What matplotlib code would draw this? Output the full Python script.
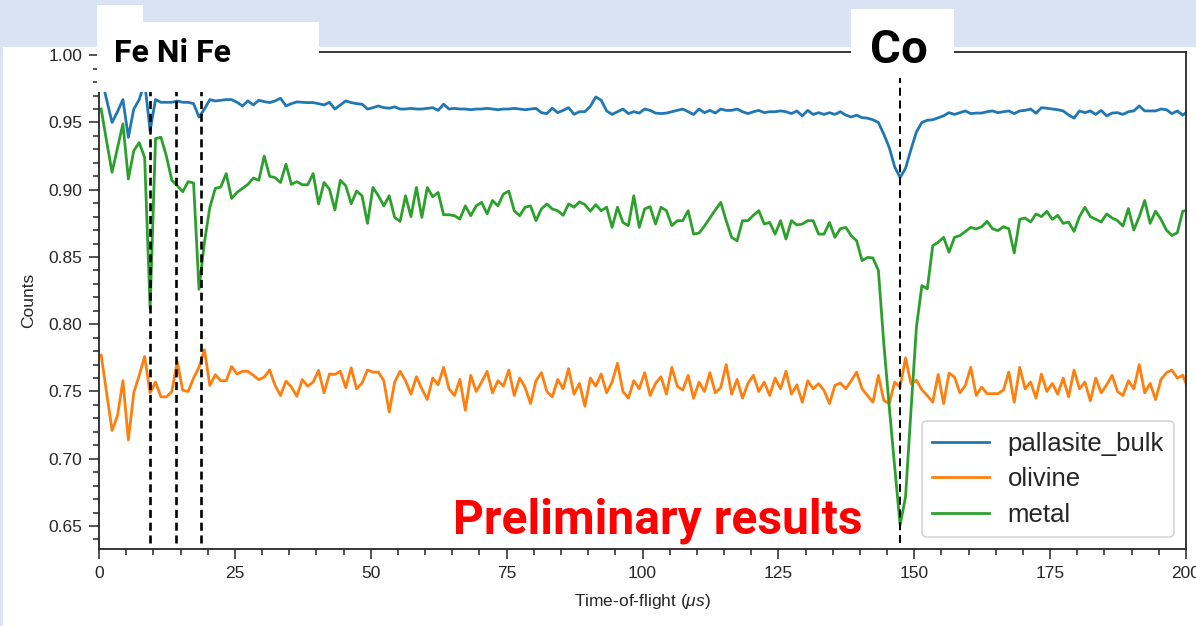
import numpy as np
import matplotlib
matplotlib.use("Agg")
import matplotlib.pyplot as plt
from matplotlib.patches import Rectangle

# ---------------------------------------------------------------- data
tof_start = 0.4   # centre of first time bin (µs)
tof_step = 1.0    # bin width (µs)

pallasite_bulk = [
    0.984, 0.967, 0.950, 0.958, 0.967, 0.939, 0.960, 0.967, 0.980, 0.944,
    0.967, 0.965, 0.965, 0.965, 0.966, 0.965, 0.965, 0.964, 0.954, 0.960,
    0.967, 0.966, 0.9665, 0.967, 0.967, 0.965, 0.9623, 0.966, 0.963, 0.9665,
    0.9655, 0.9648, 0.966, 0.968, 0.9623, 0.964, 0.9653, 0.965, 0.9648, 0.9648,
    0.964, 0.963, 0.965, 0.960, 0.963, 0.966, 0.9648, 0.964, 0.9636, 0.960,
    0.961, 0.9623, 0.961, 0.9606, 0.9616, 0.960, 0.960, 0.9605, 0.960, 0.960,
    0.9605, 0.961, 0.959, 0.9636, 0.960, 0.9605, 0.960, 0.960, 0.9595, 0.960,
    0.960, 0.9605, 0.960, 0.9595, 0.960, 0.960, 0.9605, 0.960, 0.9595, 0.960,
    0.9605, 0.9573, 0.9566, 0.9606, 0.9573, 0.959, 0.961, 0.9561, 0.958, 0.958,
    0.962, 0.969, 0.9665, 0.9586, 0.956, 0.958, 0.960, 0.9566, 0.958, 0.957,
    0.960, 0.959, 0.957, 0.9566, 0.957, 0.958, 0.959, 0.960, 0.958, 0.956,
    0.960, 0.9573, 0.959, 0.957, 0.960, 0.959, 0.959, 0.960, 0.958, 0.9566,
    0.958, 0.959, 0.9573, 0.958, 0.958, 0.9586, 0.958, 0.9566, 0.9586, 0.9549,
    0.959, 0.956, 0.9573, 0.956, 0.9573, 0.956, 0.958, 0.9555, 0.9541, 0.9554,
    0.9536, 0.9532, 0.952, 0.950, 0.9413, 0.9314, 0.917, 0.909, 0.916, 0.930,
    0.943, 0.950, 0.9517, 0.952, 0.9535, 0.955, 0.9573, 0.956, 0.9573, 0.9586,
    0.9566, 0.957, 0.957, 0.958, 0.9586, 0.9573, 0.958, 0.9586, 0.9566, 0.9586,
    0.959, 0.960, 0.9569, 0.961, 0.9606, 0.960, 0.9595, 0.9586, 0.9556, 0.9532,
    0.9586, 0.9573, 0.9586, 0.956, 0.959, 0.9549, 0.957, 0.9573, 0.956, 0.958,
    0.9586, 0.9623, 0.9586, 0.9586, 0.9586, 0.960, 0.9595, 0.9566, 0.9586, 0.9554,
    0.9586,
]

olivine = [
    0.777, 0.749, 0.721, 0.732, 0.758, 0.714, 0.749, 0.762, 0.776, 0.749,
    0.757, 0.746, 0.746, 0.750, 0.772, 0.751, 0.750, 0.760, 0.768, 0.781,
    0.7545, 0.7625, 0.758, 0.758, 0.7686, 0.763, 0.765, 0.765, 0.762, 0.7588,
    0.7607, 0.766, 0.7545, 0.747, 0.7577, 0.7533, 0.7464, 0.7588, 0.754, 0.757,
    0.7657, 0.749, 0.763, 0.7627, 0.765, 0.7528, 0.7676, 0.752, 0.7563, 0.766,
    0.7644, 0.7644, 0.758, 0.7347, 0.757, 0.765, 0.758, 0.748, 0.761, 0.752,
    0.744, 0.760, 0.755, 0.768, 0.752, 0.747, 0.759, 0.736, 0.762, 0.750,
    0.757, 0.765, 0.749, 0.758, 0.754, 0.766, 0.747, 0.760, 0.753, 0.741,
    0.758, 0.764, 0.750, 0.746, 0.759, 0.752, 0.767, 0.748, 0.756, 0.739,
    0.760, 0.754, 0.763, 0.749, 0.757, 0.771, 0.750, 0.745, 0.758, 0.752,
    0.764, 0.747, 0.756, 0.761, 0.748, 0.768, 0.754, 0.751, 0.762, 0.745,
    0.757, 0.750, 0.764, 0.749, 0.753, 0.770, 0.748, 0.759, 0.745, 0.756,
    0.762, 0.750, 0.757, 0.747, 0.760, 0.752, 0.765, 0.748, 0.755, 0.742,
    0.758, 0.752, 0.7558, 0.7508, 0.741, 0.7545, 0.7563, 0.752, 0.758, 0.7644,
    0.752, 0.747, 0.742, 0.762, 0.7434, 0.741, 0.757, 0.7533, 0.775, 0.7558,
    0.7583, 0.7513, 0.747, 0.742, 0.7627, 0.741, 0.7637, 0.7607, 0.749, 0.7545,
    0.768, 0.747, 0.7533, 0.7484, 0.7484, 0.7484, 0.751, 0.7644, 0.742, 0.768,
    0.752, 0.757, 0.745, 0.763, 0.750, 0.756, 0.748, 0.760, 0.746, 0.766,
    0.752, 0.757, 0.743, 0.760, 0.749, 0.755, 0.762, 0.750, 0.747, 0.758,
    0.752, 0.770, 0.749, 0.756, 0.744, 0.759, 0.764, 0.766, 0.760, 0.762,
    0.752,
]

metal = [
    0.960, 0.936, 0.913, 0.931, 0.949, 0.908, 0.929, 0.935, 0.924, 0.812,
    0.938, 0.939, 0.925, 0.907, 0.903, 0.8985, 0.906, 0.905, 0.826, 0.861,
    0.887, 0.901, 0.902, 0.912, 0.8935, 0.898, 0.901, 0.904, 0.9087, 0.907,
    0.925, 0.910, 0.909, 0.9054, 0.919, 0.904, 0.906, 0.9037, 0.9037, 0.912,
    0.8894, 0.9054, 0.9005, 0.885, 0.907, 0.903, 0.8896, 0.899, 0.8955, 0.875,
    0.9017, 0.8955, 0.888, 0.8955, 0.8794, 0.8765, 0.8955, 0.880, 0.9017, 0.8794,
    0.9017, 0.8948, 0.898, 0.8814, 0.8814, 0.8807, 0.8782, 0.888, 0.8807, 0.888,
    0.8906, 0.882, 0.892, 0.888, 0.8968, 0.899, 0.8844, 0.8807, 0.887, 0.888,
    0.877, 0.8857, 0.8894, 0.8857, 0.8844, 0.881, 0.8894, 0.887, 0.891, 0.8889,
    0.884, 0.8889, 0.8844, 0.887, 0.872, 0.887, 0.8757, 0.8733, 0.8955, 0.872,
    0.8857, 0.8874, 0.8745, 0.887, 0.8844, 0.8733, 0.877, 0.877, 0.8844, 0.867,
    0.8678, 0.873, 0.879, 0.885, 0.8906, 0.877, 0.8646, 0.862, 0.877, 0.877,
    0.881, 0.8844, 0.8745, 0.8757, 0.867, 0.877, 0.8634, 0.877, 0.8738, 0.8745,
    0.877, 0.877, 0.867, 0.867, 0.8757, 0.8646, 0.871, 0.872, 0.8659, 0.862,
    0.8473, 0.8497, 0.8493, 0.840, 0.7855, 0.7385, 0.694, 0.6507, 0.6717, 0.736,
    0.7978, 0.8287, 0.8263, 0.8584, 0.8609, 0.8646, 0.8535, 0.8646, 0.8659, 0.869,
    0.872, 0.8708, 0.8725, 0.8765, 0.871, 0.8696, 0.8725, 0.871, 0.853, 0.878,
    0.879, 0.876, 0.882, 0.880, 0.884, 0.878, 0.881, 0.875, 0.876, 0.869,
    0.880, 0.887, 0.880, 0.878, 0.876, 0.882, 0.879, 0.877, 0.873, 0.886,
    0.870, 0.880, 0.892, 0.875, 0.884, 0.878, 0.870, 0.866, 0.868, 0.884,
    0.885,
]

series_labels = ["pallasite_bulk", "olivine", "metal"]
series_colors = ["#1f77b4", "#ff7f0e", "#2ca02c"]

edge_positions = [9.45, 14.1, 18.7]   # Fe, Ni, Fe resonances (µs)
co_position = 147.3                    # Co resonance (µs)

x_ticks = [0, 25, 50, 75, 100, 125, 150, 175, 200]
y_ticks = [0.65, 0.70, 0.75, 0.80, 0.85, 0.90, 0.95, 1.00]

# ---------------------------------------------------------------- style
ink = "#262626"
plt.rcParams["font.family"] = ["Liberation Sans", "DejaVu Sans"]
plt.rcParams["mathtext.fontset"] = "custom"
plt.rcParams["mathtext.rm"] = "Liberation Sans"
plt.rcParams["mathtext.it"] = "Liberation Sans:italic"
plt.rcParams["lines.scale_dashes"] = False

W, H = 1196, 626
fig = plt.figure(figsize=(W / 100, H / 100), dpi=100, facecolor="white")


def fx(px):
    return px / W


def fy(py):
    return 1 - py / H


ax = fig.add_axes([fx(99), fy(549), fx(1186) - fx(99), fy(52) - fy(549)])

for values, label, color in zip([pallasite_bulk, olivine, metal],
                                series_labels, series_colors):
    t = tof_start + tof_step * np.arange(len(values))
    ax.plot(t, values, color=color, lw=2.0, label=label, zorder=2)

for xe in edge_positions:
    ax.vlines(xe, 0.637, 1.0, colors="black", lw=1.9,
              linestyles=[(0, (5.8, 3.4))], zorder=3)
ax.vlines(co_position, 0.637, 1.0, colors="black", lw=1.4,
          linestyles=[(0, (5.8, 3.4))], zorder=3)

ax.set_xlim(0, 200)
ax.set_ylim(0.6329, 1.0024)
ax.set_xticks(x_ticks)
ax.set_yticks(y_ticks)
ax.set_xticks(np.arange(0, 201, 5), minor=True)
ax.set_yticks(np.arange(0.64, 1.001, 0.01), minor=True)
ax.set_yticklabels([f"{v:.2f}" for v in y_ticks])

for side in ["left", "bottom", "top", "right"]:
    ax.spines[side].set_color(ink)
    ax.spines[side].set_linewidth(1.3)

ax.tick_params(which="major", direction="out", length=7, width=1.1,
               color=ink, labelcolor=ink, labelsize=12.5, pad=5)
ax.tick_params(which="minor", direction="out", length=4.5, width=1.1, color=ink)

ax.set_xlabel(r"Time-of-flight ($\mu s$)", fontsize=12.5, color=ink, labelpad=8)
ax.set_ylabel("Counts", fontsize=12.5, color=ink, labelpad=9)

leg = ax.legend(loc="lower right", fontsize=18.5, handlelength=2.2,
                handletextpad=0.75, labelspacing=0.46, borderpad=0.4,
                borderaxespad=0.45, frameon=True, fancybox=True)
leg.get_frame().set_edgecolor("#cccccc")
leg.get_frame().set_linewidth(1.2)
for txt in leg.get_texts():
    txt.set_color(ink)

# ---------------------------------------------------------------- slide overlay
band = "#dae3f3"
fig.add_artist(Rectangle((0, fy(47)), 1, 47 / H, transform=fig.transFigure,
                         facecolor=band, edgecolor="none", zorder=10))
fig.add_artist(Rectangle((0, 0), 3 / W, fy(47), transform=fig.transFigure,
                         facecolor=band, edgecolor="none", zorder=10))


def white_box(x0, y0, x1, y1):
    fig.add_artist(Rectangle((fx(x0), fy(y1)), fx(x1) - fx(x0), fy(y0) - fy(y1),
                             transform=fig.transFigure, facecolor="white",
                             edgecolor="none", zorder=11))


white_box(97, 5, 143, 92)
white_box(97, 22, 319, 92)
white_box(851, 9, 954, 78)

bold = dict(family=["Roboto", "DejaVu Sans"], weight="bold", zorder=12,
            ha="left", va="baseline")
fig.text(fx(114), fy(62), "Fe Ni Fe", fontsize=23, color="black", **bold)
fig.text(fx(870), fy(63), "Co", fontsize=34, color="black", **bold)
fig.text(fx(453), fy(533), "Preliminary results", fontsize=34.6, color="#ff0000", **bold)

fig.savefig("out.png", dpi=100, facecolor="white")
